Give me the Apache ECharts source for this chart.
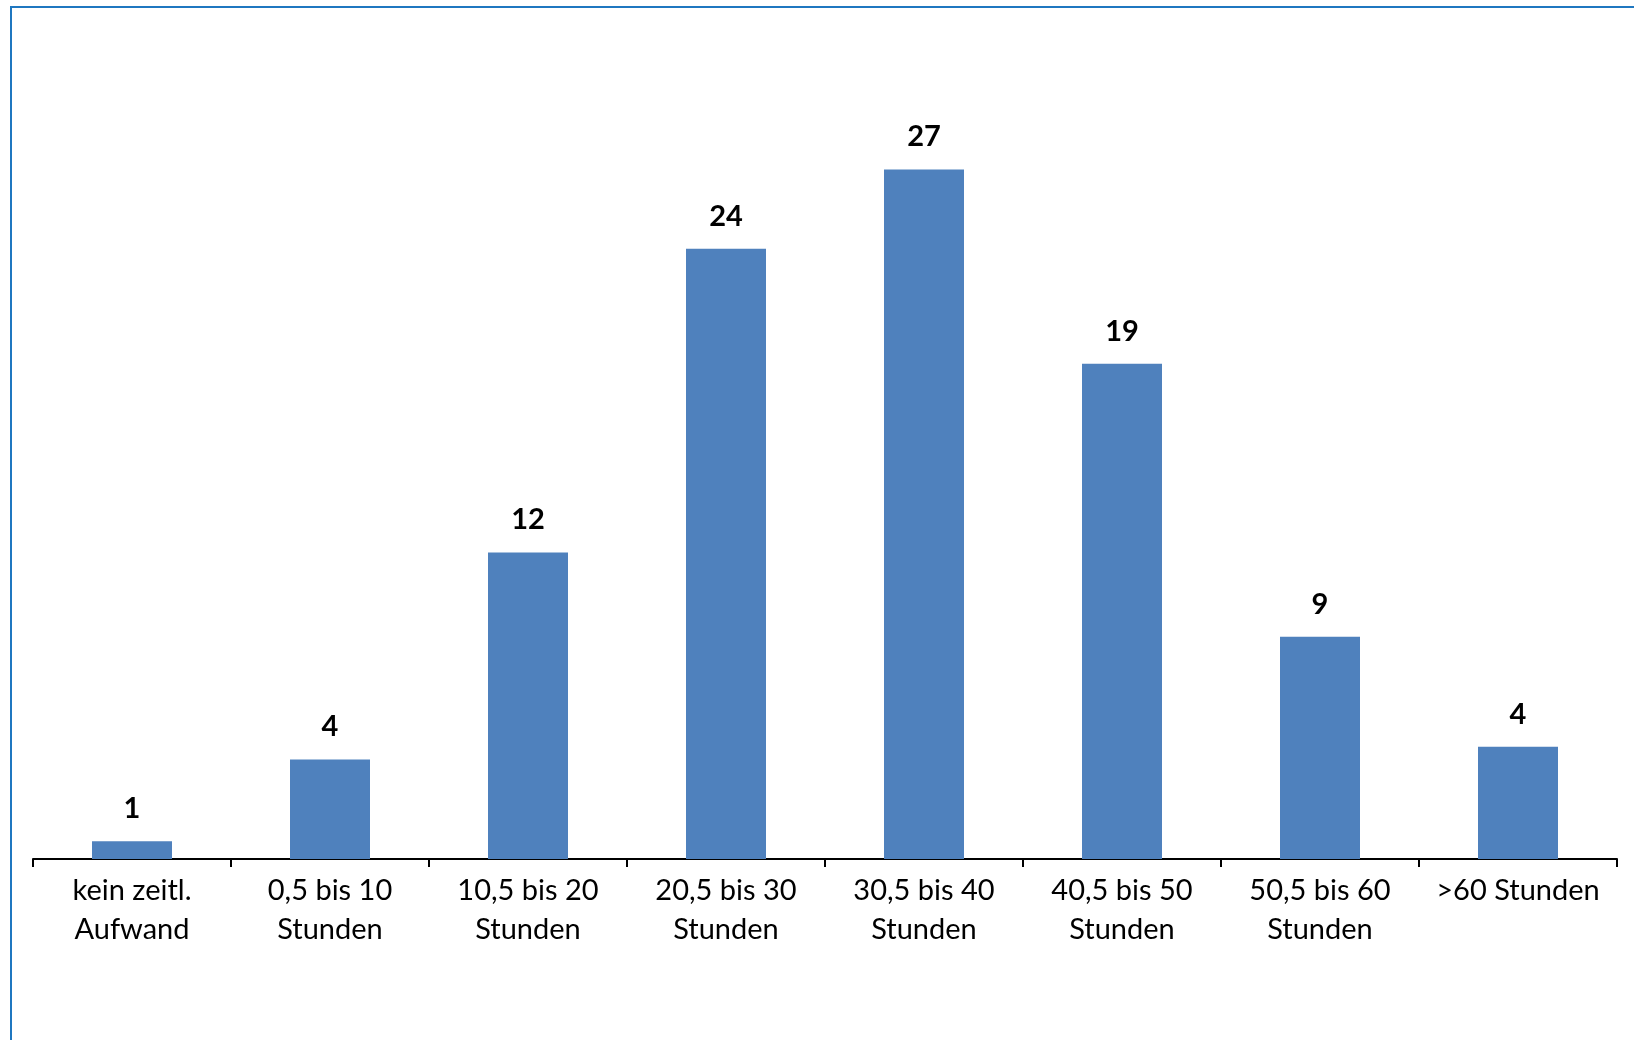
<!DOCTYPE html>
<html>
<head>
<meta charset="utf-8">
<style>
  html, body { margin: 0; padding: 0; background: #ffffff; }
  #chart { width: 1634px; height: 1040px; }
</style>
<script src="https://cdn.jsdelivr.net/npm/echarts@6/dist/echarts.min.js"></script>
</head>
<body>
<div id="chart"></div>
<script>
// Weekly time spent, share of respondents in percent
const categories = [
  'kein zeitl.\nAufwand',
  '0,5 bis 10\nStunden',
  '10,5 bis 20\nStunden',
  '20,5 bis 30\nStunden',
  '30,5 bis 40\nStunden',
  '40,5 bis 50\nStunden',
  '50,5 bis 60\nStunden',
  '>60 Stunden'
];
const shares = [0.7, 3.9, 12.0, 23.9, 27.0, 19.4, 8.7, 4.4];
const yMax = 30;

const chart = echarts.init(document.getElementById('chart'), null, { renderer: 'canvas' });
const font = 'Lato, "Open Sans", sans-serif';

chart.setOption({
  animation: false,
  backgroundColor: '#ffffff',
  grid: { left: 33, right: 17, top: 93, bottom: 181, containLabel: false },
  graphic: [{
    type: 'rect',
    shape: { x: 11, y: 7, width: 1700, height: 1100 },
    style: { fill: 'none', stroke: '#1f77c0', lineWidth: 2 },
    silent: true
  }],
  xAxis: {
    type: 'category',
    data: categories,
    axisLine: { lineStyle: { color: '#000000', width: 2 } },
    axisTick: { show: true, length: 8, lineStyle: { color: '#000000', width: 2 } },
    axisLabel: {
      interval: 0,
      margin: 12,
      color: '#000000',
      fontFamily: font,
      fontSize: 29,
      lineHeight: 39
    }
  },
  yAxis: {
    type: 'value',
    min: 0,
    max: yMax,
    show: false
  },
  series: [{
    type: 'bar',
    data: shares,
    barWidth: 80,
    itemStyle: { color: '#4f81bd' },
    label: {
      show: true,
      position: 'top',
      distance: 18,
      color: '#000000',
      fontFamily: font,
      fontSize: 29,
      fontWeight: 'bold',
      formatter: p => String(Math.round(p.value))
    }
  }]
});
</script>
</body>
</html>
